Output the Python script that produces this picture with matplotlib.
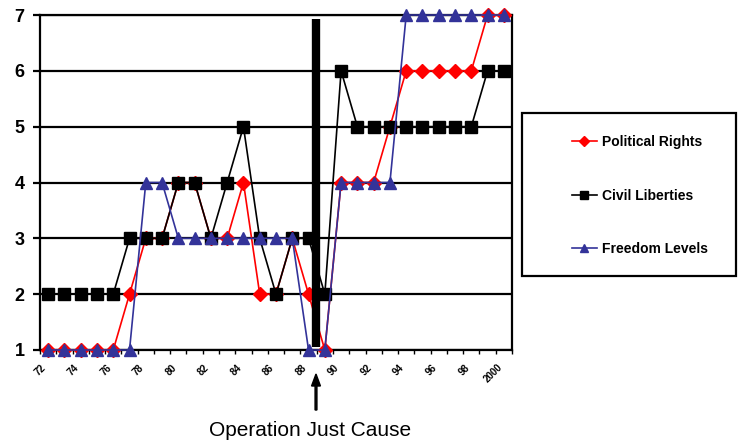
import matplotlib
matplotlib.use("Agg")
import matplotlib.pyplot as plt
from matplotlib.patches import Rectangle

plt.rcParams['font.family'] = ['Liberation Sans', 'DejaVu Sans']

# --------------------- data ---------------------
years = ['72', '73', '74', '75', '76', '77', '78', '79', '80', '81', '82', '83', '84', '85',
         '86', '87', '88', '89', '90', '91', '92', '93', '94', '95', '96', '97', '98', '99', '2000']
political_rights = [1, 1, 1, 1, 1, 2, 3, 3, 4, 4, 3, 3, 4, 2,
                    2, 3, 2, 1, 4, 4, 4, 5, 6, 6, 6, 6, 6, 7, 7]
civil_liberties = [2, 2, 2, 2, 2, 3, 3, 3, 4, 4, 3, 4, 5, 3,
                   2, 3, 3, 2, 6, 5, 5, 5, 5, 5, 5, 5, 5, 6, 6]
freedom_levels = [1, 1, 1, 1, 1, 1, 4, 4, 3, 3, 3, 3, 3, 3,
                  3, 3, 1, 1, 4, 4, 4, 4, 7, 7, 7, 7, 7, 7, 7]
event_label = 'Operation Just Cause'
event_pos = 16.45   # between '88 and '89

# --------------------- plot ---------------------
fig = plt.figure(figsize=(7.4, 4.42), dpi=100)
ax = fig.add_axes([40/740, 1 - 350/442, 472/740, 335/442])

x = list(range(len(years)))
for yv in range(1, 8):
    ax.axhline(yv, color='black', lw=1.6, zorder=1)

ax.plot(x, political_rights, color='#ff0000', lw=1.2, marker='D', ms=7,
        mfc='#ff0000', mec='#ff0000', label='Political Rights', clip_on=False, zorder=3)
ax.plot(x, civil_liberties, color='black', lw=1.2, marker='s', ms=9,
        mfc='black', mec='black', label='Civil Liberties', clip_on=False, zorder=4)
ax.plot(x, freedom_levels, color='#333399', lw=1.2, marker='^', ms=9,
        mfc='#333399', mec='#333399', label='Freedom Levels', clip_on=False, zorder=5)

# thick bar marking the invasion
ax.plot([event_pos, event_pos], [1.05, 6.92], color='black', lw=6, solid_capstyle='butt', zorder=6)

ax.set_xlim(-0.5, len(years) - 0.5)
ax.set_ylim(1, 7)
ax.set_yticks(range(1, 8))
ax.set_yticklabels([str(v) for v in range(1, 8)], fontsize=13, fontweight='bold')
ax.tick_params(axis='y', length=5, width=1.6, pad=6)

ax.set_xticks([i for i in x if i % 2 == 0])
ax.set_xticklabels([years[i] for i in x if i % 2 == 0], rotation=45, ha='right',
                   fontsize=7, fontweight='bold')
ax.set_xticks([i - 0.5 for i in x] + [len(years) - 0.5], minor=True)
ax.tick_params(axis='x', which='major', length=0, pad=9)
ax.tick_params(axis='x', which='minor', length=3, width=1)

for s in ax.spines.values():
    s.set_linewidth(1.6)

# arrow and caption under the axis
fig.patches.append(matplotlib.patches.FancyArrow(
    316/740, 1 - 410/442, 0, 36/442, width=0.0025, head_width=0.012, head_length=12/442,
    length_includes_head=True, color='black', transform=fig.transFigure, figure=fig))
fig.text(310/740, 1 - 430/442, event_label, fontsize=15, ha='center', va='center')

# legend in a box on the right
fig.patches.append(Rectangle((522/740, 1 - 276/442), 214/740, 163/442, fill=False,
                             lw=1.6, ec='black', transform=fig.transFigure, figure=fig))
fig.legend(loc='center left', bbox_to_anchor=(565/740, 1 - 195.5/442), frameon=False,
           prop={'size': 10, 'weight': 'bold'}, borderpad=0, handlelength=1.8,
           handletextpad=0.35, labelspacing=2.85, markerscale=0.7)

fig.savefig('out.png', dpi=100)
